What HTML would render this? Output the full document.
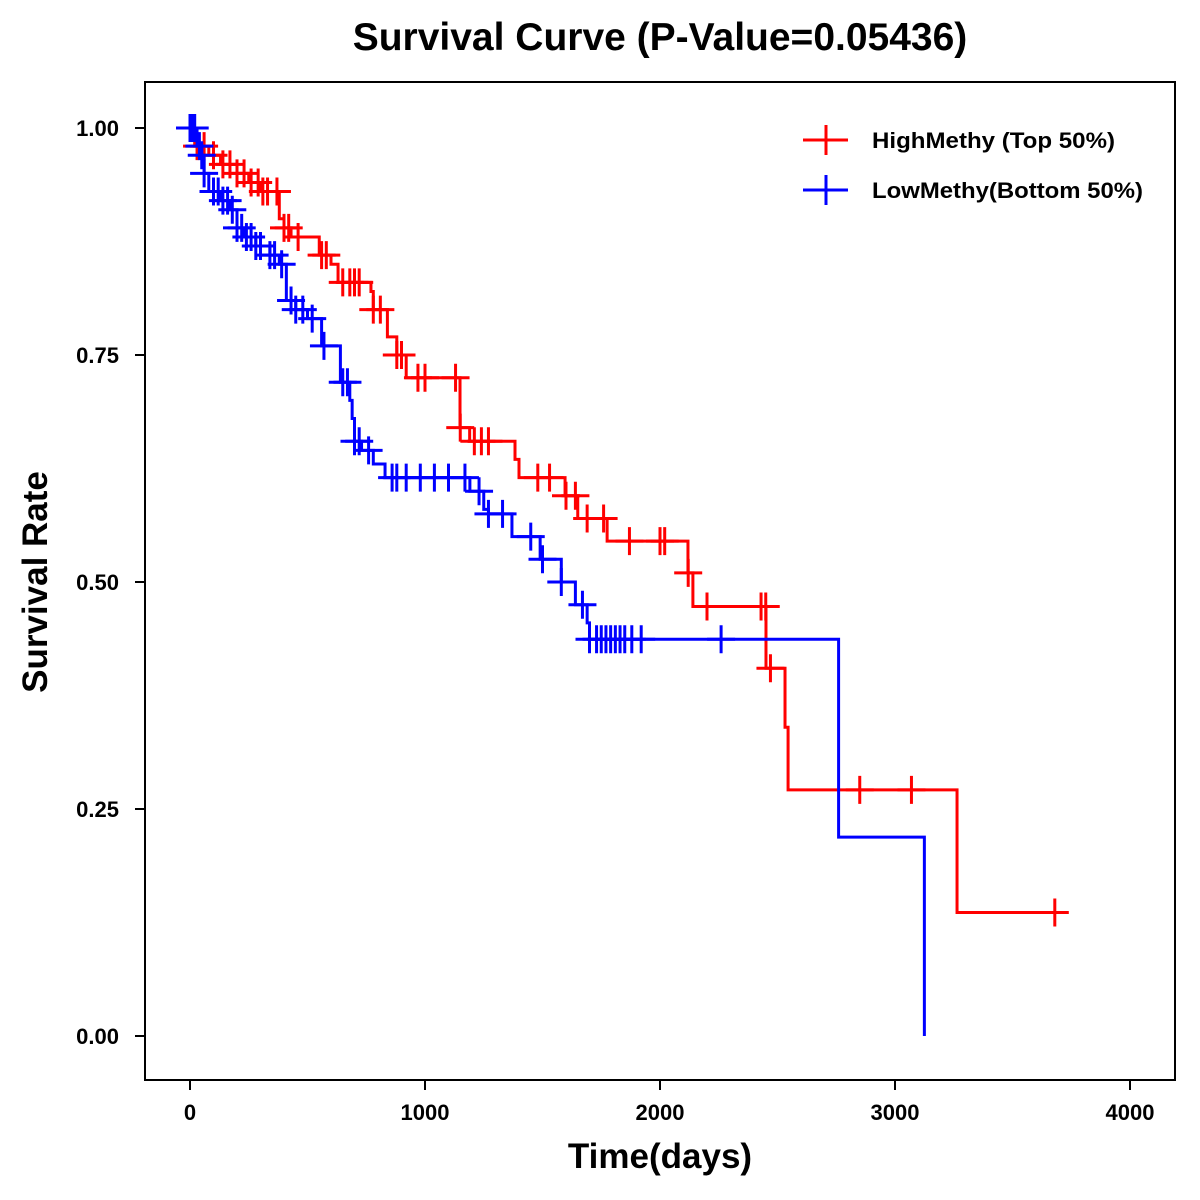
<!DOCTYPE html>
<html><head><meta charset="utf-8"><style>
body{margin:0;background:#fff;}
svg{display:block;font-family:"Liberation Sans",Arial,sans-serif;font-weight:bold;}
</style></head><body>
<svg id="chart" width="1200" height="1200" viewBox="0 0 1200 1200">
<text x="660" y="50" text-anchor="middle" font-size="39">Survival Curve (P-Value=0.05436)</text>
<rect x="145" y="82" width="1030" height="998" fill="none" stroke="#000" stroke-width="2"/>
<g id="axes"></g>
<g id="series"></g>
<text x="660" y="1168" text-anchor="middle" font-size="35">Time(days)</text>
<text transform="translate(47,582) rotate(-90)" text-anchor="middle" font-size="35">Survival Rate</text>
<g>
<g>
<line x1="803" y1="140" x2="848" y2="140" stroke="#f00" stroke-width="3"/><line x1="826" y1="125" x2="826" y2="155" stroke="#f00" stroke-width="3"/>
<text x="872" y="148" font-size="22" textLength="243" lengthAdjust="spacingAndGlyphs">HighMethy (Top 50%)</text></g>
<g>
<line x1="803" y1="190" x2="848" y2="190" stroke="#00f" stroke-width="3"/><line x1="826" y1="175" x2="826" y2="205" stroke="#00f" stroke-width="3"/>
<text x="872" y="198" font-size="22" textLength="271" lengthAdjust="spacingAndGlyphs">LowMethy(Bottom 50%)</text></g>
</g>
</svg>
<script>
const xTicks=[0,1000,2000,3000,4000];
const yTicks=[0,0.25,0.5,0.75,1.0];
const yTickLabels=["0.00","0.25","0.50","0.75","1.00"];
const highTimes=[0,20,80,130,200,250,300,380,400,430,550,600,630,770,780,840,880,920,1149,1190,1383,1400,1596,1650,1775,2119,2140,2451,2532,2545,3264];
const highSurv=[1.0,0.98,0.97,0.96,0.95,0.94,0.93,0.90,0.89,0.88,0.86,0.85,0.83,0.82,0.80,0.77,0.75,0.725,0.67,0.655,0.635,0.615,0.595,0.57,0.545,0.51,0.473,0.405,0.34,0.271,0.136];
const highEnd=3700;
const highCensor=[30,60,100,140,170,200,230,260,290,310,330,370,400,420,460,560,580,650,680,700,720,780,810,880,900,970,1000,1130,1150,1210,1240,1270,1480,1530,1600,1640,1690,1760,1870,2000,2020,2120,2200,2430,2450,2470,2850,3070,3680];
const lowTimes=[0,30,50,60,80,130,170,200,230,280,340,380,410,450,500,560,640,680,690,700,730,780,830,1191,1250,1270,1370,1490,1580,1640,1690,1700,2760,3125];
const lowSurv=[1.0,0.98,0.97,0.95,0.93,0.92,0.91,0.89,0.88,0.87,0.86,0.85,0.81,0.80,0.79,0.76,0.72,0.70,0.68,0.655,0.645,0.63,0.615,0.60,0.58,0.575,0.55,0.525,0.50,0.475,0.455,0.437,0.219,0.0];
const lowEnd=3125;
const lowCensor=[0,10,20,40,50,60,100,120,140,160,180,200,220,240,260,280,300,340,360,390,430,450,480,520,570,650,670,700,720,760,860,880,920,980,1040,1100,1170,1230,1270,1330,1450,1500,1580,1670,1700,1730,1750,1770,1790,1810,1830,1850,1880,1920,2260];

const NS="http://www.w3.org/2000/svg";
const xS=t=>190+t*0.235;
const yS=s=>1036-s*908;
const axes=document.getElementById('axes');
const series=document.getElementById('series');
function mk(tag,attrs,parent){const e=document.createElementNS(NS,tag);for(const k in attrs)e.setAttribute(k,attrs[k]);parent.appendChild(e);return e;}
xTicks.forEach(v=>{
  const l=mk('line',{x1:xS(v),x2:xS(v),y1:1080,y2:1090,stroke:'#000','stroke-width':2},axes);
  
  
  const t=mk('text',{x:xS(v),y:1120,'text-anchor':'middle','font-size':22},axes);
  t.textContent=v;
  
  
});
yTicks.forEach((v,i)=>{
  const l=mk('line',{x1:135,x2:145,y1:yS(v),y2:yS(v),stroke:'#000','stroke-width':2},axes);
  
  
  const t=mk('text',{x:119,y:yS(v)+8,'text-anchor':'end','font-size':22},axes);
  t.textContent=yTickLabels[i];
  
  
});
function survAt(times,surv,t){let s=surv[0];for(let i=0;i<times.length;i++){if(times[i]<=t)s=surv[i];}return s;}
function drawSeries(times,surv,end,censor,color,name){
  let d='M'+xS(times[0])+','+yS(surv[0]);
  for(let i=1;i<times.length;i++){d+=' H'+xS(times[i])+' V'+yS(surv[i]);}
  d+=' H'+xS(end);
  const p=mk('path',{d:d,fill:'none',stroke:color,'stroke-width':3},series);
  
  
  censor.forEach(c=>{
    const x=xS(c),y=yS(survAt(times,surv,c));
    const g=mk('path',{d:'M'+(x-14)+','+y+' H'+(x+14)+' M'+x+','+(y-14)+' V'+(y+14),stroke:color,'stroke-width':3,fill:'none'},series);
    
    
  });
}
drawSeries(highTimes,highSurv,highEnd,highCensor,'#f00','high-methy');
drawSeries(lowTimes,lowSurv,lowEnd,lowCensor,'#00f','low-methy');
</script>
</body></html>
